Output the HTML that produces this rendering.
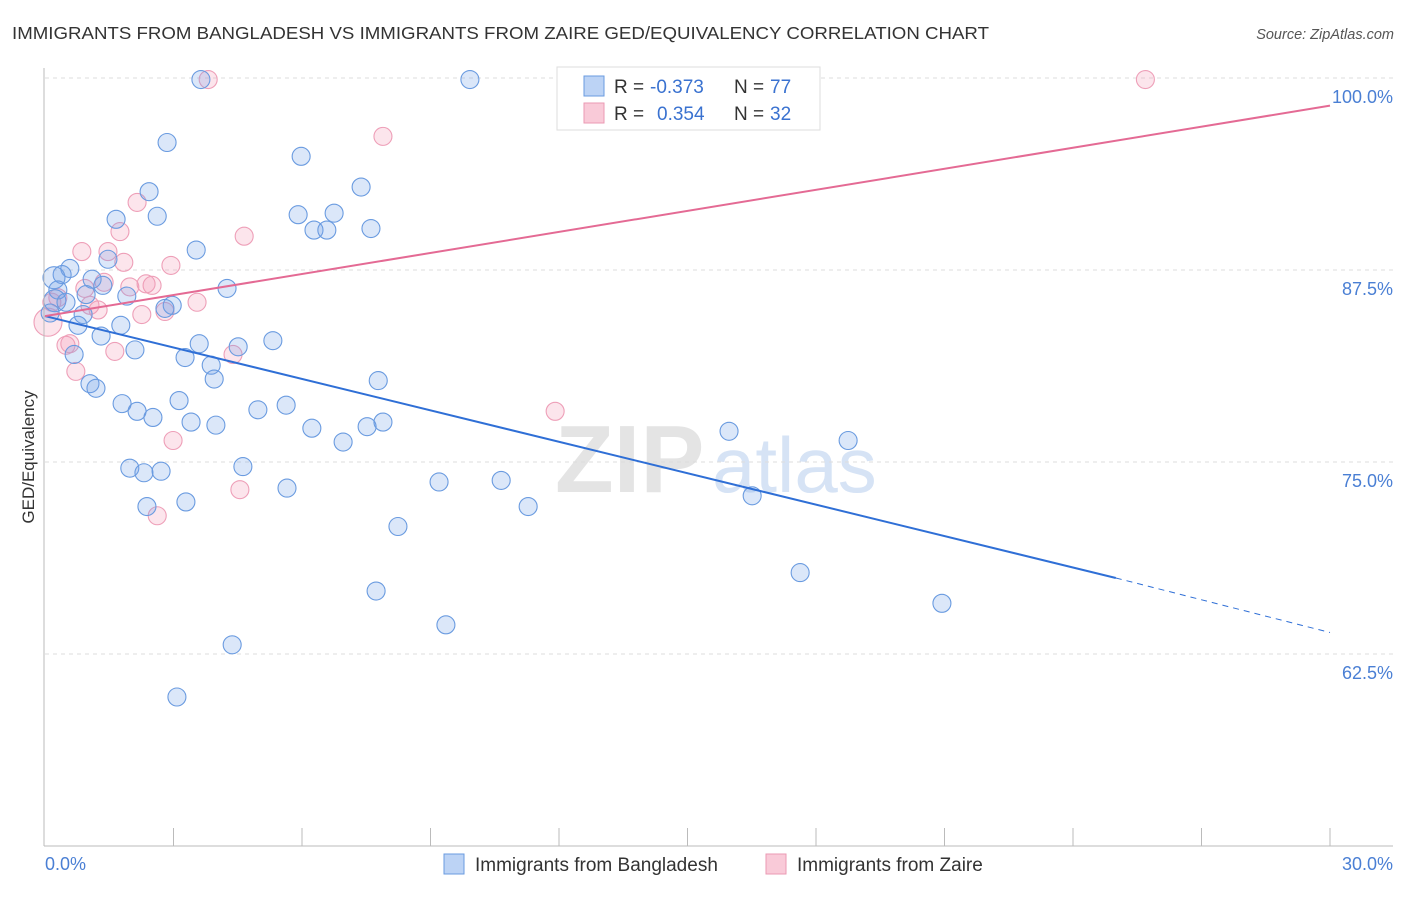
<!DOCTYPE html>
<html><head><meta charset="utf-8"><style>
body{margin:0;background:#fff;font-family:"Liberation Sans",sans-serif}
svg text{font-family:"Liberation Sans",sans-serif}
</style></head><body>
<svg id="c" width="1406" height="892" viewBox="0 0 1406 892" xmlns="http://www.w3.org/2000/svg">
<text x="12" y="39" font-size="17.5" fill="#333" textLength="977" lengthAdjust="spacingAndGlyphs">IMMIGRANTS FROM BANGLADESH VS IMMIGRANTS FROM ZAIRE GED/EQUIVALENCY CORRELATION CHART</text>
<text x="1394" y="39" font-size="14.5" fill="#555" text-anchor="end" font-style="italic">Source: ZipAtlas.com</text>
<text x="555" y="492" font-size="96" fill="#e4e4e4" font-family="Liberation Serif" font-weight="bold">ZIP</text>
<text x="712" y="492" font-size="78" fill="#d6e3f5">atlas</text>
<g id="grid"></g><g id="pts"></g><g id="lines"></g>
<line x1="44" y1="68" x2="44" y2="846" stroke="#bbb"/>
<line x1="44" y1="846" x2="1393" y2="846" stroke="#bbb"/>
<text transform="translate(34,457) rotate(-90)" font-size="17" fill="#333" text-anchor="middle">GED/Equivalency</text>
<text x="45" y="870" font-size="18" fill="#4a7fd4">0.0%</text>
<text x="1393" y="870" font-size="18" fill="#4a7fd4" text-anchor="end">30.0%</text>
<g>
<rect x="557" y="67" width="263" height="63" fill="#fff" stroke="#ddd"/>
<rect x="584" y="76" width="20" height="20" fill="#bcd3f5" stroke="#6a9be0"/>
<rect x="584" y="103" width="20" height="20" fill="#f9cad8" stroke="#eb9ab3"/>
<text x="614" y="93" font-size="19" fill="#333">R =</text>
<text x="650" y="93" font-size="19" fill="#3a72d0">-0.373</text>
<text x="734" y="93" font-size="19" fill="#333">N =</text>
<text x="770" y="93" font-size="19" fill="#3a72d0">77</text>
<text x="614" y="120" font-size="19" fill="#333">R =</text>
<text x="657" y="120" font-size="19" fill="#3a72d0">0.354</text>
<text x="734" y="120" font-size="19" fill="#333">N =</text>
<text x="770" y="120" font-size="19" fill="#3a72d0">32</text>
</g>
<g>
<rect x="444" y="854" width="20" height="20" fill="#bcd3f5" stroke="#6a9be0"/>
<text x="475" y="871" font-size="19" fill="#333">Immigrants from Bangladesh</text>
<rect x="766" y="854" width="20" height="20" fill="#f9cad8" stroke="#eb9ab3"/>
<text x="797" y="871" font-size="19" fill="#333">Immigrants from Zaire</text>
</g>
</svg>
<script>
const yTicks=[100,87.5,75,62.5];
const yTickLabels=["100.0%","87.5%","75.0%","62.5%"];
const xTicks=[3,6,9,12,15,18,21,24,27,30];
const blueX=[3.64,9.92,2.85,5.98,7.38,2.43,5.91,6.75,1.66,2.62,6.28,6.58,7.61,3.53,0.58,0.40,0.21,1.47,1.10,1.35,4.25,0.30,0.96,1.91,0.23,0.49,2.97,2.80,0.12,0.89,0.77,1.77,1.31,3.60,4.51,5.32,2.10,0.68,3.27,3.88,3.95,7.78,1.05,1.19,1.80,3.13,2.15,2.52,4.97,5.63,3.41,3.99,6.23,6.96,7.52,7.89,15.97,18.75,1.98,2.31,2.71,4.62,9.20,10.65,5.65,3.29,2.38,11.28,16.51,8.24,17.63,7.73,20.94,9.36,4.37,3.08];
const blueY=[99.9,99.9,95.8,94.9,92.9,92.6,91.1,91.2,90.8,91.0,90.1,90.1,90.2,88.8,87.6,87.2,87.0,88.2,86.9,86.5,86.3,86.2,85.9,85.8,85.5,85.4,85.2,85.0,84.7,84.6,83.9,83.9,83.2,82.7,82.5,82.9,82.3,82.0,81.8,81.3,80.4,80.3,80.1,79.8,78.8,79.0,78.3,77.9,78.4,78.7,77.6,77.4,77.2,76.3,77.3,77.6,77.0,76.4,74.6,74.3,74.4,74.7,73.7,73.8,73.3,72.4,72.1,72.1,72.8,70.8,67.8,66.6,65.8,64.4,63.1,59.7];
const pinkX=[3.81,25.69,7.89,2.15,1.75,4.65,0.86,1.47,1.84,2.94,1.38,1.98,2.50,2.36,3.55,1.05,1.24,2.80,2.26,0.30,0.16,0.07,0.49,0.58,1.63,4.39,0.72,11.91,2.99,4.55,2.62,0.93];
const pinkY=[99.9,99.9,96.2,91.9,90.0,89.7,88.7,88.7,88.0,87.8,86.7,86.4,86.5,86.6,85.4,85.2,84.9,84.8,84.6,85.7,85.4,84.1,82.6,82.7,82.2,82.0,80.9,78.3,76.4,73.2,71.5,86.3];
const blueTrend=[[0,84.5],[25,67.45],[30,63.9]];
const pinkTrend=[[0,84.5],[30,98.2]];
const NS="http://www.w3.org/2000/svg";
const sx=v=>45+v/30*1285, sy=v=>78+(100-v)/12.5*192;
function mk(t,a,p){const e=document.createElementNS(NS,t);for(const k in a)e.setAttribute(k,a[k]);p.appendChild(e);return e;}
const grid=document.getElementById('grid');
yTicks.forEach((v,i)=>{
 const l=mk('line',{x1:45,x2:1393,y1:sy(v),y2:sy(v),stroke:'#ddd','stroke-dasharray':'4,4'},grid);
 
 
 const t=mk('text',{x:1393,y:sy(v)+25,'font-size':18,fill:'#4a7fd4','text-anchor':'end'},grid);
 t.textContent=yTickLabels[i];
 
 
});
xTicks.forEach(v=>{
 const l=mk('line',{x1:sx(v),x2:sx(v),y1:828,y2:846,stroke:'#bbb'},grid);
 
 
});
const pts=document.getElementById('pts');
pinkX.forEach((x,i)=>{
 const r=(i===21)?14:9;
 const c=mk('circle',{cx:sx(x),cy:sy(pinkY[i]),r:r,fill:'rgba(242,150,180,0.25)',stroke:'#ee9fb8','stroke-width':1.1},pts);
 
 
});
blueX.forEach((x,i)=>{
 const r=(i===16||i===24)?11:9;
 const c=mk('circle',{cx:sx(x),cy:sy(blueY[i]),r:r,fill:'rgba(110,160,230,0.25)',stroke:'#6a9be0','stroke-width':1.1},pts);
 
 
});
const lines=document.getElementById('lines');
let l1=mk('line',{x1:sx(blueTrend[0][0]),y1:sy(blueTrend[0][1]),x2:sx(blueTrend[1][0]),y2:sy(blueTrend[1][1]),stroke:'#2f6fd6','stroke-width':2},lines);


let l2=mk('line',{x1:sx(blueTrend[1][0]),y1:sy(blueTrend[1][1]),x2:sx(blueTrend[2][0]),y2:sy(blueTrend[2][1]),stroke:'#2f6fd6','stroke-width':1,'stroke-dasharray':'6,5'},lines);


let l3=mk('line',{x1:sx(pinkTrend[0][0]),y1:sy(pinkTrend[0][1]),x2:sx(pinkTrend[1][0]),y2:sy(pinkTrend[1][1]),stroke:'#e46a94','stroke-width':2},lines);


</script>
</body></html>
